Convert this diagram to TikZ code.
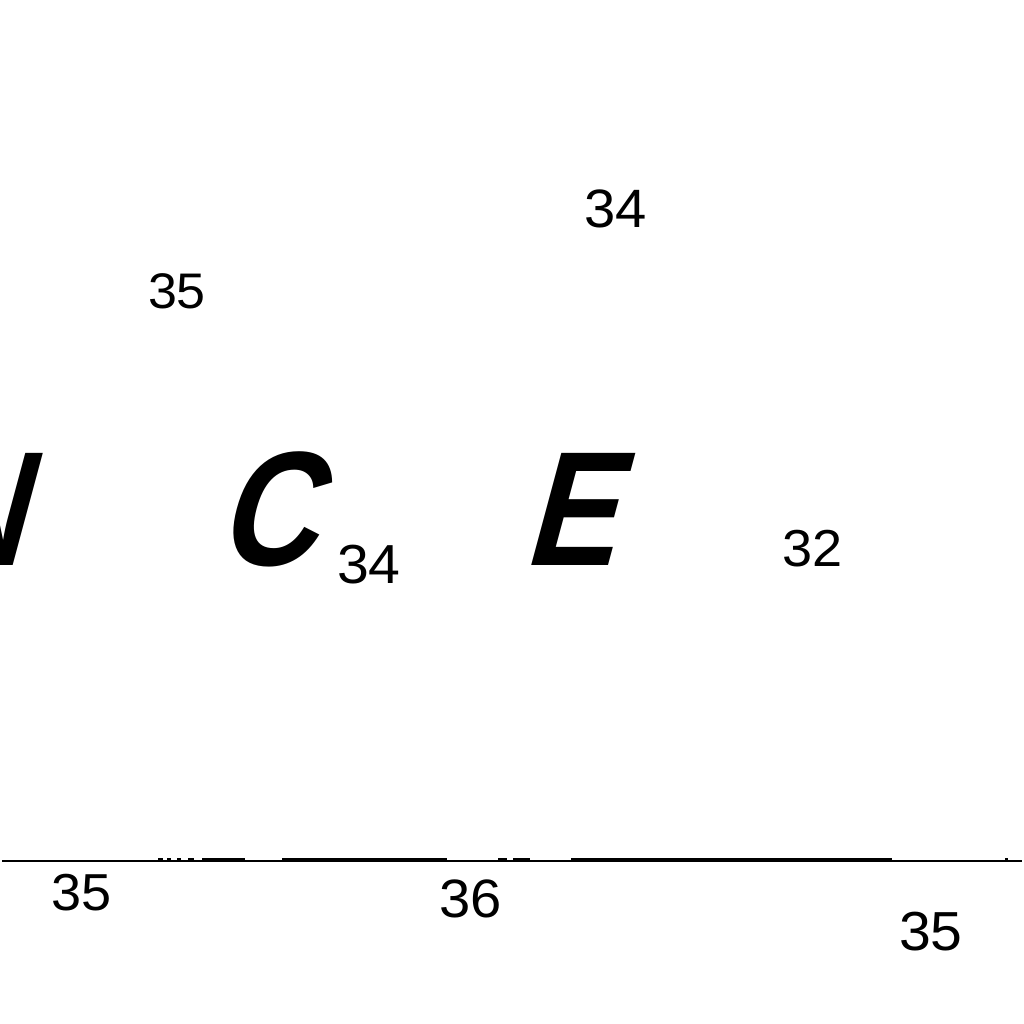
\documentclass[tikz,border=0pt]{standalone}
\usepackage{fontspec}
\newfontfamily\numfont{Liberation Sans}
\newfontfamily\letfont[FakeSlant=0.32]{Liberation Sans Bold}
\tikzset{
  numlbl/.style={inner sep=0pt, outer sep=0pt, anchor=base west, xscale=1.04, font=\numfont\fontsize{#1}{#1}\selectfont},
  biglet/.style={inner sep=0pt, outer sep=0pt, anchor=base west, xscale=0.84, font=\letfont\fontsize{163}{163}\selectfont},
  baseline rule/.style={line width=2pt},
  thickseg/.style={fill=black}
}
\begin{document}
\begin{tikzpicture}[x=1pt,y=-1pt]
\useasboundingbox (0,0) rectangle (1024,1024);
% big letters
\node[biglet] (lN) at (-76,565) {N};
\node[biglet] (lC) at (216,565) {C};
\node[biglet] (lE) at (522,565) {E};
% numbers
\node[numlbl=50] (n35a) at (148,308) {35};
\node[numlbl=54] (n34a) at (584,227) {34};
\node[numlbl=55] (n34c) at (337,583) {34};
\node[numlbl=52] (n32) at (782,566) {32};
\node[numlbl=52] (n35b) at (51,910) {35};
\node[numlbl=54] (n36) at (439,917) {36};
\node[numlbl=55] (n35c) at (899,950) {35};
% horizontal line
\coordinate (la) at (2,861);
\coordinate (lb) at (1022,861);
\draw[baseline rule] (la) -- (lb);
\foreach \a/\b in {158/163,167/171,177/181,188/194,202/245,282/447,498/507,513/530,571/892,1005/1008}
  \fill[thickseg] (\a,858) rectangle (\b,862);
\end{tikzpicture}
\end{document}
